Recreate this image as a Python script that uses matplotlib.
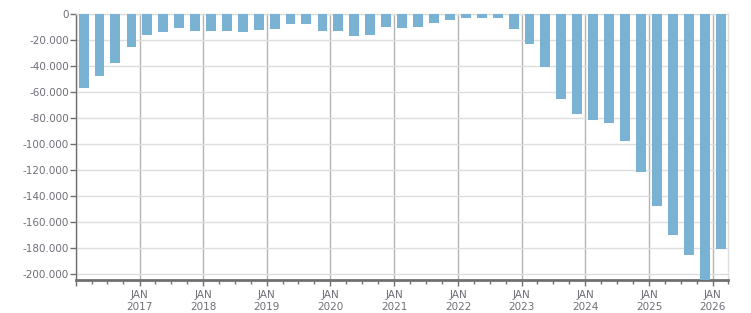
'''
Quarterly balance bar chart, Q1 2016 - Q1 2026
'''
import matplotlib
matplotlib.use('Agg')
import matplotlib.pyplot as plt
import matplotlib.dates as mdates
import matplotlib.ticker as mticker
import pandas as pd

# quarters and values
quarters = pd.period_range('2016Q1', '2026Q1', freq='Q')
values = [
    -57000, -48000, -38000, -25600,   # 2016
    -16400, -14100, -11000, -13300,   # 2017
    -13300, -13300, -14100, -12300,   # 2018
    -11800, -7950, -7950, -13300,     # 2019
    -13300, -17200, -16400, -10300,   # 2020
    -11000, -10300, -7200, -4900,     # 2021
    -3300, -3300, -3300, -11800,      # 2022
    -23300, -41000, -65600, -77200,   # 2023
    -81800, -84100, -97900, -122000,  # 2024
    -148000, -170000, -186000, -206000,  # 2025
    -181000,                          # 2026
]

BAR_COLOR = '#7ab2d4'
TEXT_COLOR = '#6e6e78'
AXIS_COLOR = '#707070'

# bars sit in the middle of each quarter
starts = quarters.start_time
ends = quarters.end_time
centers = starts + (ends - starts) / 2

fig = plt.figure(figsize=(7.51, 3.13), dpi=100)
ax = fig.add_axes([0.1008, 0.1054, 0.8692, 0.8508])

ax.bar(centers, values, width=57, color=BAR_COLOR, zorder=3)

ax.set_xlim(pd.Timestamp('2016-01-01'), pd.Timestamp('2026-04-01'))
ax.set_ylim(-205000, 0)

# x axis: JAN/year at each January, quarterly minor ticks
ax.xaxis.set_major_locator(mdates.YearLocator())
ax.xaxis.set_minor_locator(mdates.MonthLocator(bymonth=[4, 7, 10]))
ax.xaxis.set_major_formatter(
    mticker.FuncFormatter(lambda x, pos: 'JAN\n' + mdates.num2date(x).strftime('%Y')))

# y axis: dot as thousands separator
ax.yaxis.set_major_locator(mticker.MultipleLocator(20000))
ax.yaxis.set_major_formatter(
    mticker.FuncFormatter(lambda v, pos: f'{v:,.0f}'.replace(',', '.')))

ax.grid(axis='y', color='#dddddd', linewidth=1, zorder=0)
ax.grid(axis='x', which='major', color='#b4b4b4', linewidth=1, zorder=0)
ax.set_axisbelow(True)

for side in ['top', 'right']:
    ax.spines[side].set_color('#dddddd')
    ax.spines[side].set_linewidth(1)
ax.spines['left'].set_color(AXIS_COLOR)
ax.spines['left'].set_linewidth(1)
ax.spines['bottom'].set_color(AXIS_COLOR)
ax.spines['bottom'].set_linewidth(2)

ax.tick_params(axis='y', colors=AXIS_COLOR, labelcolor=TEXT_COLOR, labelsize=7.5,
               length=4, width=1, pad=1)
ax.tick_params(axis='x', which='major', colors=AXIS_COLOR, labelcolor=TEXT_COLOR,
               labelsize=7.5, length=4, width=1, pad=3)
ax.tick_params(axis='x', which='minor', colors=AXIS_COLOR, length=3, width=1)

# the Jan 2016 label would sit on the y axis, reference has none
fig.canvas.draw()
for lbl in ax.get_xticklabels():
    if '2016' in lbl.get_text():
        lbl.set_visible(False)
    lbl.set_linespacing(1.3)

fig.savefig('out.png', dpi=100)
